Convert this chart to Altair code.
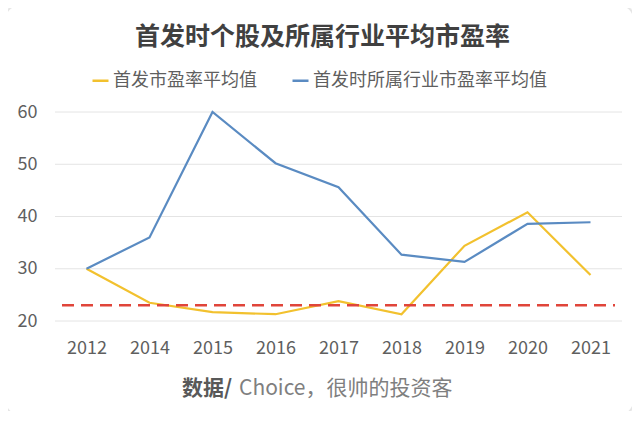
import altair as alt
import pandas as pd

years = ["2012", "2014", "2015", "2016", "2017", "2018", "2019", "2020", "2021"]
ipo_pe = [30.0, 23.5, 21.7, 21.3, 23.8, 21.3, 34.4, 40.8, 28.8]
industry_pe = [30.0, 36.0, 60.0, 50.2, 45.6, 32.7, 31.3, 38.6, 38.9]
series_names = ["首发市盈率平均值", "首发时所属行业市盈率平均值"]
y_ticks = [20, 30, 40, 50, 60]
reference_pe = 23.0
title_text = "首发时个股及所属行业平均市盈率"
footer_bold = "数据/"
footer_rest = "Choice，很帅的投资客"

FONT = "Noto Sans CJK SC"

rows = []
for y, v in zip(years, ipo_pe):
    rows.append({"year": y, "pe": v, "series": series_names[0]})
for y, v in zip(years, industry_pe):
    rows.append({"year": y, "pe": v, "series": series_names[1]})
df = pd.DataFrame(rows)

W, H = 567, 209
y_scale = alt.Scale(domain=[20, 60], nice=False, zero=False)

x_enc = alt.X("year:N", sort=years,
              scale=alt.Scale(type="point", padding=0.5),
              axis=alt.Axis(title=None, labelAngle=0, domain=False, ticks=False,
                            grid=False, labelFontSize=18, labelColor="#5f5f5f",
                            labelFont=FONT, labelPadding=18, zindex=1))

card = alt.Chart(pd.DataFrame({"a": [0]})).mark_rect(
    fill="white", stroke="#e6e6e6", strokeWidth=2, cornerRadius=14
).encode(x=alt.value(-50), x2=alt.value(579), y=alt.value(-107), y2=alt.value(303))

grid = alt.Chart(pd.DataFrame({"g": y_ticks})).mark_rule(
    color="#e4e4e4", strokeWidth=1
).encode(y=alt.Y("g:Q", scale=y_scale), x=alt.value(0), x2=alt.value(W))

lines = alt.Chart(df).mark_line(strokeWidth=2.2).encode(
    x=x_enc,
    y=alt.Y("pe:Q", scale=y_scale,
            axis=alt.Axis(title=None, values=y_ticks, domain=False,
                          ticks=False, grid=False, zindex=1,
                          labelFontSize=18, labelColor="#5f5f5f", labelFont=FONT,
                          labelPadding=18)),
    color=alt.Color("series:N", sort=series_names,
                    scale=alt.Scale(domain=series_names, range=["#F2C12E", "#5A8BC2"]),
                    legend=alt.Legend(title=None, orient="none", direction="horizontal",
                                      legendX=36, legendY=-41, symbolType="stroke",
                                      symbolSize=256, symbolStrokeWidth=2.5,
                                      labelFontSize=18, labelFont=FONT,
                                      labelColor="#5f5f5f", labelOffset=3,
                                      columnPadding=30, labelLimit=400)),
)

ref = alt.Chart(pd.DataFrame({"v": [reference_pe]})).mark_rule(
    color="#E0453A", strokeWidth=2.5, strokeDash=[12, 7]
).encode(y=alt.Y("v:Q", scale=y_scale), x=alt.value(7), x2=alt.value(560))

foot1 = alt.Chart(pd.DataFrame({"t": [footer_bold]})).mark_text(
    align="left", baseline="middle", fontSize=21, fontWeight="bold",
    font=FONT, color="#595959"
).encode(text="t:N", x=alt.value(127), y=alt.value(277))

foot2 = alt.Chart(pd.DataFrame({"t": [footer_rest]})).mark_text(
    align="left", baseline="middle", fontSize=21, font=FONT, color="#7f7f7f"
).encode(text="t:N", x=alt.value(184), y=alt.value(277))

chart = alt.layer(card, grid, lines, ref, foot1, foot2).properties(
    width=W, height=H,
    autosize=alt.AutoSizeParams(type="none"),
    padding={"left": 47, "top": 104, "right": 10, "bottom": 90},
    title=alt.TitleParams(text=title_text, fontSize=25, fontWeight="bold", font=FONT,
                          color="#404040", anchor="middle", dx=-16, offset=-46),
    background="#fafafa",
).configure_view(stroke=None)

chart.save("out.html", embed_options={"renderer": "svg", "actions": False})
